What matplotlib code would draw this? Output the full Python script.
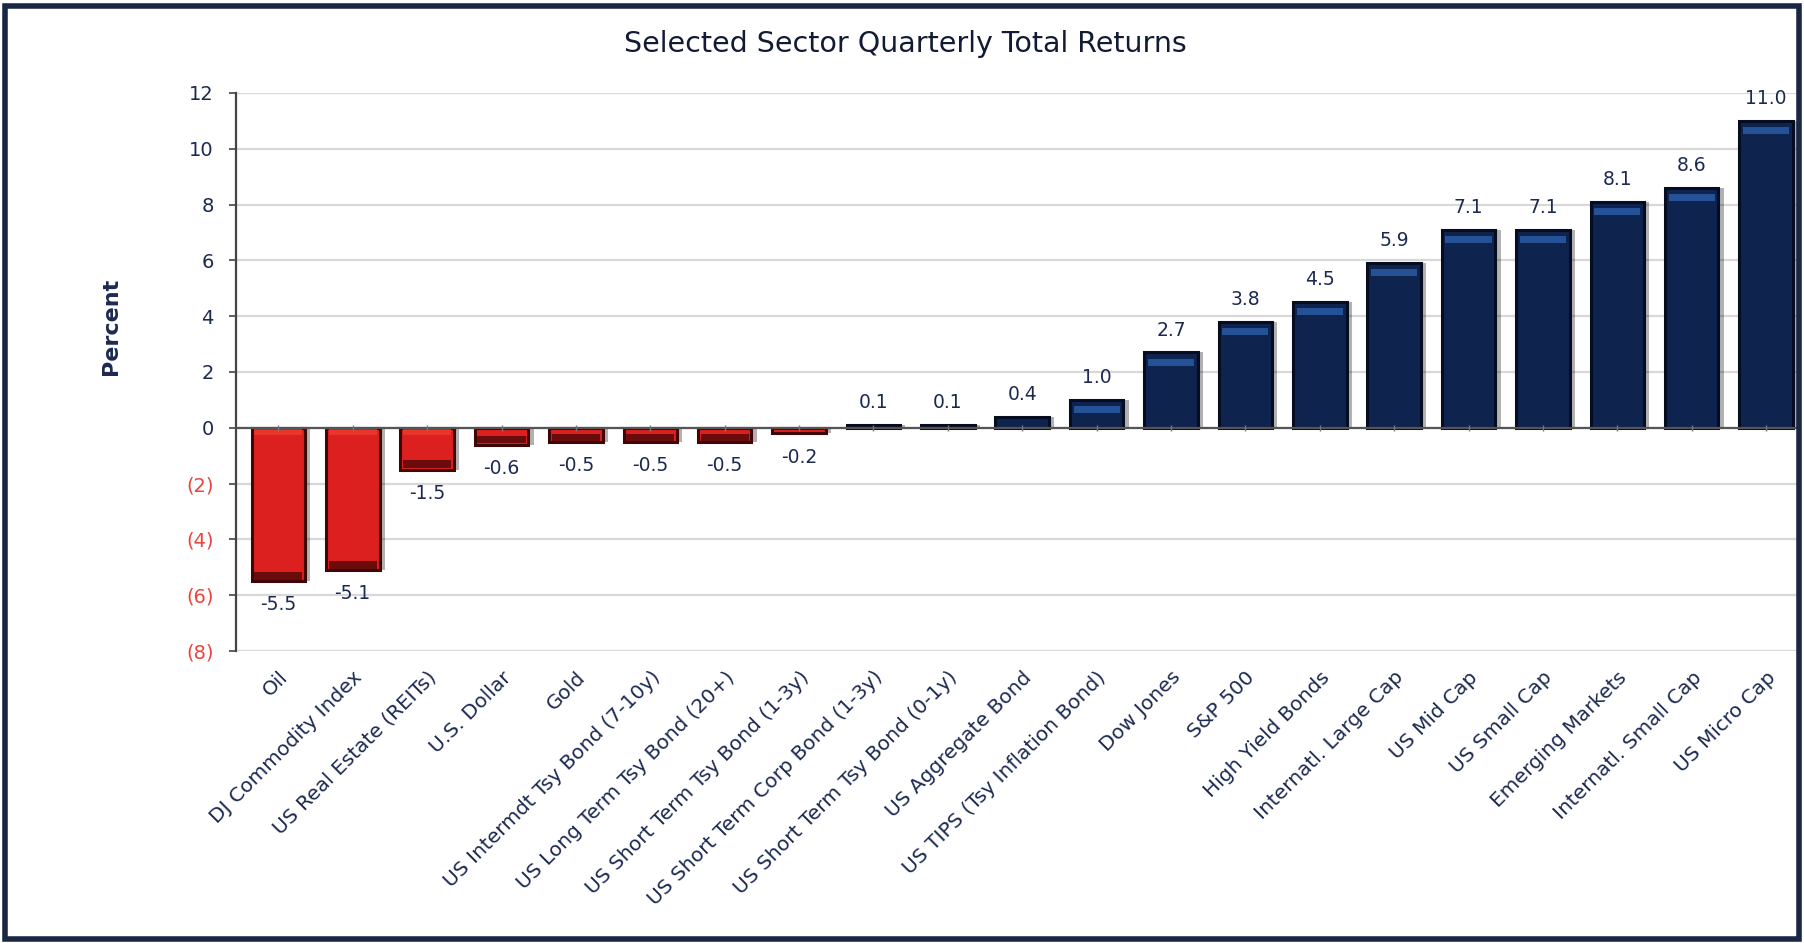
import numpy as np
import matplotlib.pyplot as plt

# Quarterly total returns by sector (percent)
sektory = [
    'Oil', 'DJ Commodity Index', 'US Real Estate (REITs)', 'U.S. Dollar', 'Gold',
    'US Intermdt Tsy Bond (7-10y)', 'US Long Term Tsy Bond (20+)',
    'US Short Term Tsy Bond (1-3y)', 'US Short Term Corp Bond (1-3y)',
    'US Short Term Tsy Bond (0-1y)', 'US Aggregate Bond',
    'US TIPS (Tsy Inflation Bond)', 'Dow Jones', 'S&P 500', 'High Yield Bonds',
    'Internatl. Large Cap', 'US Mid Cap', 'US Small Cap', 'Emerging Markets',
    'Internatl. Small Cap', 'US Micro Cap',
]
vynosy = [-5.5, -5.1, -1.5, -0.6, -0.5, -0.5, -0.5, -0.2, 0.1, 0.1, 0.4,
          1.0, 2.7, 3.8, 4.5, 5.9, 7.1, 7.1, 8.1, 8.6, 11.0]
y_ticky = [12, 10, 8, 6, 4, 2, 0, -2, -4, -6, -8]
y_popisky = ['12', '10', '8', '6', '4', '2', '0', '(2)', '(4)', '(6)', '(8)']

NAVY = '#0f234f'
NAVY_TEXT = '#1c2a52'
RED = '#dc1f1f'
RED_TICK = '#e8453c'

plt.rcParams['font.family'] = ['DejaVu Sans']

fig = plt.figure(figsize=(18.04, 9.43), dpi=100)
ax = fig.add_axes([0.1308, 0.3097, 0.8659, 0.5917])

x = np.arange(len(vynosy))
v = np.array(vynosy)
sirka = 0.72

# stin za sloupci
ax.bar(x + 0.07, v, width=sirka, color='black', alpha=0.3, zorder=2, linewidth=0)

barvy = [RED if h < 0 else NAVY for h in v]
hrany = ['#3e0606' if h < 0 else '#060d20' for h in v]
ax.bar(x, v, width=sirka, color=barvy, edgecolor=hrany, linewidth=2.2, zorder=3)

# plasticky efekt: svetly pruh u vrcholu modrych, tmavy u konce cervenych
for xi, h in zip(x, v):
    if h >= 0.8:
        ax.bar(xi, 0.25, bottom=h - 0.47, width=sirka * 0.86, color='#2a5aa5',
               linewidth=0, zorder=4, alpha=0.85)
    elif h <= -0.4:
        pas = min(0.3, -h * 0.45)
        ax.bar(xi, pas, bottom=h + 0.04, width=sirka * 0.9, color='#6b0c0c',
               linewidth=0, zorder=4)
        if h < -1:
            ax.bar(xi, -0.2, bottom=-0.05, width=sirka * 0.9, color='#f0402f',
                   linewidth=0, zorder=4, alpha=0.7)

# popisky hodnot
for xi, h in zip(x, v):
    if h >= 0:
        ax.text(xi, h + 0.8, f'{h:.1f}', ha='center', va='center',
                fontsize=13.5, color=NAVY_TEXT, zorder=6)
    else:
        ax.text(xi, h - 0.85, f'{h:.1f}', ha='center', va='center',
                fontsize=13.5, color=NAVY_TEXT, zorder=6)

ax.set_xlim(-0.57, 20.43)
ax.set_ylim(-8, 12)
ax.set_yticks(y_ticky)
ax.set_yticklabels(y_popisky, fontsize=14)
for lbl, t in zip(ax.get_yticklabels(), y_ticky):
    lbl.set_color(RED_TICK if t < 0 else NAVY_TEXT)
ax.tick_params(axis='y', length=5, width=1.2, color='#444444', pad=11)

ax.set_xticks(x)
ax.set_xticklabels(sektory, rotation=45, ha='right', rotation_mode='anchor',
                   fontsize=14.5, color=NAVY_TEXT)
ax.tick_params(axis='x', length=0, pad=12)

ax.grid(axis='y', color='#d8d8d8', linewidth=1.6, zorder=0)
ax.set_axisbelow(True)
ax.axhline(0, color='#555555', linewidth=1.6, zorder=5)
ax.plot(x, np.zeros_like(x, dtype=float), linestyle='none', marker='|',
        markersize=5, color='#777777', zorder=5)

for s in ['top', 'right', 'bottom']:
    ax.spines[s].set_visible(False)
ax.spines['left'].set_color('#444444')
ax.spines['left'].set_linewidth(1.6)

ax.set_ylabel('Percent', fontsize=16, fontweight='bold', color=NAVY_TEXT)
ax.yaxis.set_label_coords(-0.0736, 0.582)

fig.text(0.502, 0.953, 'Selected Sector Quarterly Total Returns', ha='center',
         va='center', fontsize=20.5, color='#111b33')

# ramecek kolem celeho obrazku
ramecek = plt.Rectangle((0.003, 0.004), 0.994, 0.99, transform=fig.transFigure,
                        fill=False, edgecolor='#1a2744', linewidth=4)
fig.patches.append(ramecek)

fig.savefig('out.png', dpi=100)
